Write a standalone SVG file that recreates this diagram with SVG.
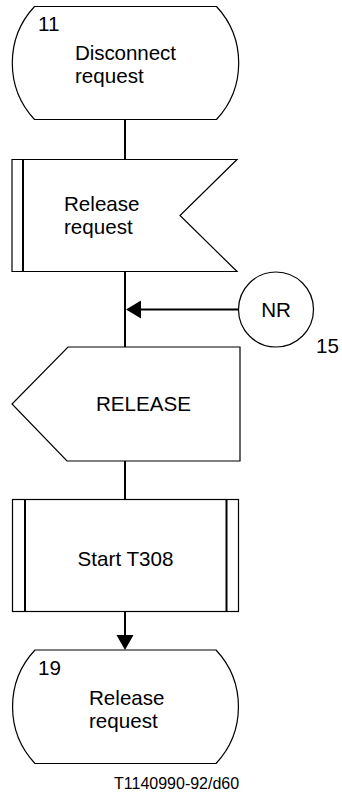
<svg xmlns="http://www.w3.org/2000/svg" width="342" height="796" viewBox="0 0 342 796">
<style>
.sh{fill:#fff;stroke:#000;stroke-width:1.2}
.bar{stroke:#000;stroke-width:2;fill:none}
.cn{stroke:#000;stroke-width:2;fill:none}
.ah{fill:#000;stroke:none}
text{font-family:"Liberation Sans",Arial,sans-serif;font-size:20.6px;fill:#000}
.sm{font-size:16px}
</style>
<rect x="0" y="0" width="342" height="796" fill="#fff"/>
<g id="connectors">
<line class="cn" x1="125" y1="119.5" x2="125" y2="159.5"/>
<line class="cn" x1="125" y1="271.5" x2="125" y2="347"/>
<line class="cn" x1="140" y1="309.5" x2="238.5" y2="309.5"/>
<polygon class="ah" points="126,309.5 141,300.5 141,318.5"/>
<line class="cn" x1="125" y1="461" x2="125" y2="499.5"/>
<line class="cn" x1="125" y1="611.5" x2="125" y2="636"/>
<polygon class="ah" points="125,650 116.5,635 133.5,635"/>
</g>
<g id="state11">
<path class="sh" d="M34.5,6.5 L216.5,6.5 A83,83 0 0 1 216.5,119.5 L34.5,119.5 A83,83 0 0 1 34.5,6.5 Z"/>
<text x="38" y="31">11</text>
<text x="75" y="60" textLength="101" lengthAdjust="spacing">Disconnect</text>
<text x="75" y="83">request</text>
</g>
<g id="input-release-request">
<path class="sh" d="M12,159.5 L237,159.5 L180,215.5 L237,271.5 L12,271.5 Z"/>
<line class="bar" x1="23" y1="159.5" x2="23" y2="271.5"/>
<text x="64" y="211">Release</text>
<text x="64" y="234">request</text>
</g>
<g id="connector-NR">
<circle class="sh" cx="276" cy="309.5" r="37.5"/>
<text x="276" y="316.5" text-anchor="middle">NR</text>
<text x="316" y="353">15</text>
</g>
<g id="output-release">
<path class="sh" d="M68,347 L240,347 L240,461 L67,461 L12,404 Z"/>
<text x="143.5" y="410.5" text-anchor="middle">RELEASE</text>
</g>
<g id="task-start-t308">
<rect class="sh" x="12.5" y="499.5" width="226" height="112"/>
<line class="bar" x1="25" y1="499.5" x2="25" y2="611.5"/>
<line class="bar" x1="226.5" y1="499.5" x2="226.5" y2="611.5"/>
<text x="125.5" y="566" text-anchor="middle">Start T308</text>
</g>
<g id="state19">
<path class="sh" d="M35,650 L216,650 A83,83 0 0 1 216,763.5 L35,763.5 A83,83 0 0 1 35,650 Z"/>
<text x="38" y="675">19</text>
<text x="89" y="705">Release</text>
<text x="89" y="728">request</text>
</g>
<text class="sm" x="114" y="789">T1140990-92/d60</text>
</svg>
